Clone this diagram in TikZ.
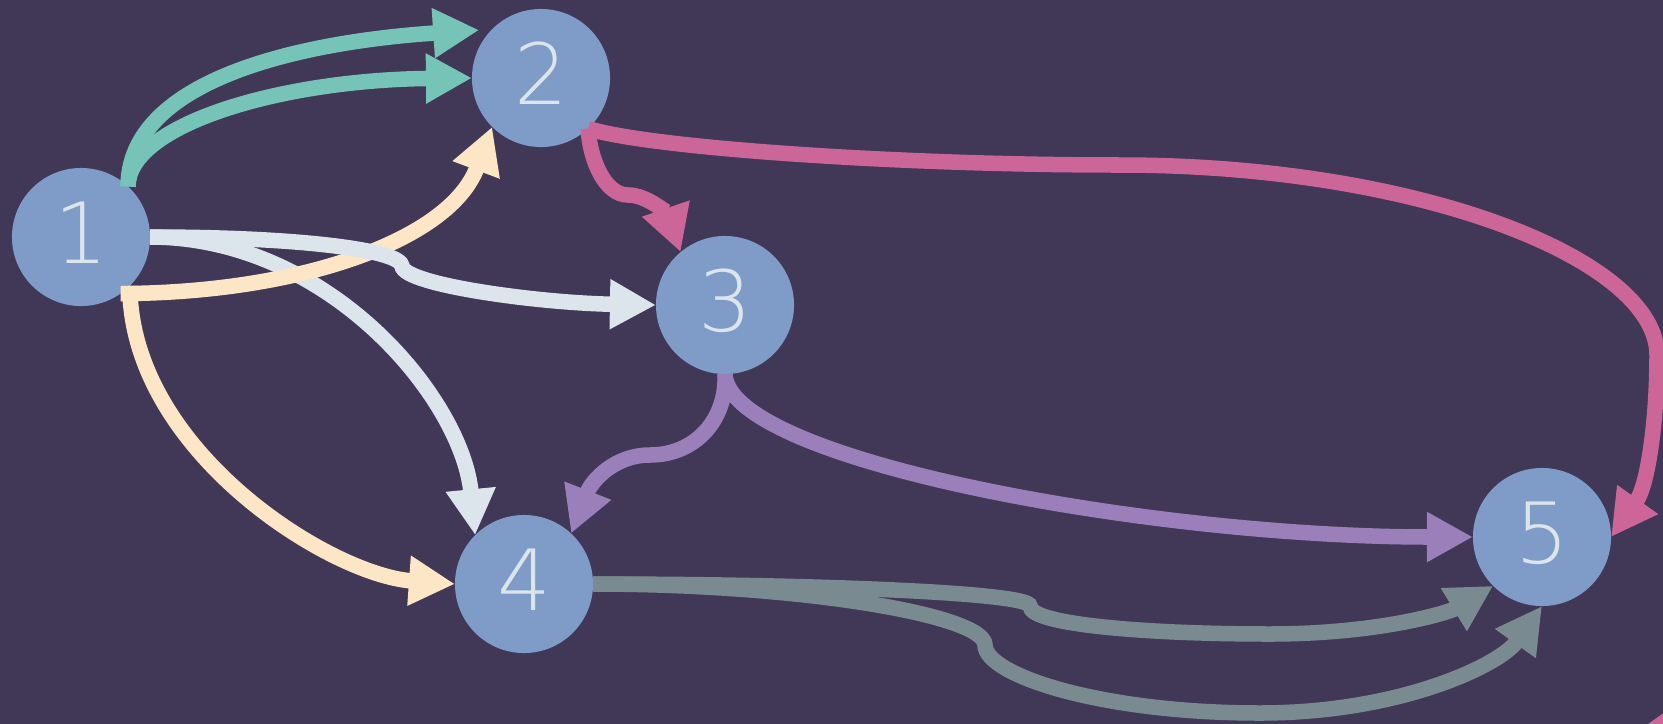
\documentclass[tikz,border=0pt]{standalone}
\usepackage{fontspec}
\usetikzlibrary{arrows.meta}
\newfontfamily\numfont{DejaVu Sans ExtraLight}
\definecolor{bgpurple}{HTML}{403856}
\definecolor{nodeblue}{HTML}{7F9BC8}
\definecolor{labelgrey}{HTML}{DDE5EC}
\definecolor{edgeteal}{HTML}{76C3B8}
\definecolor{edgecream}{HTML}{FDE6C5}
\definecolor{edgelight}{HTML}{DCE4EC}
\definecolor{edgepink}{HTML}{CC6699}
\definecolor{edgepurple}{HTML}{9B7FBB}
\definecolor{edgegrey}{HTML}{7A8A91}

\begin{document}
\begin{tikzpicture}[x=0.01cm,y=-0.01cm,
        vtx/.style={circle,fill=nodeblue,minimum size=1.38cm,inner sep=0pt,outer sep=0pt,
            text=labelgrey,text height=0.63cm,text depth=0.1cm,
            font=\numfont\fontsize{24}{29}\selectfont},
        link/.style={line width=0.155cm,-{Triangle[length=0.46cm,width=0.47cm]}}]
    \useasboundingbox (0,0) rectangle (1663,724);
    \clip (0,0) rectangle (1663,724);
    \fill[bgpurple] (0,0) rectangle (1663,724);

    % vertices
    \node[vtx] (n1) at (81,237) {1};
    \node[vtx] (n2) at (541,78) {2};
    \node[vtx] (n3) at (725,305) {3};
    \node[vtx] (n4) at (524,584) {4};
    \node[vtx] (n5) at (1542,537) {5};

    % out of 1
    \draw[link,edgeteal,shorten >=0.13cm] (n1.47) .. controls (128,80) and (300,42) .. (n2.135);
    \draw[link,edgeteal] (n1.47) .. controls (128,125) and (280,80) .. (n2.west);
    \draw[link,edgelight] (n1.east) .. controls (330,237) and (462,400) .. (n4.135);
    \draw[link,edgecream] (n1.-45) .. controls (130,450) and (330,575) .. (n4.west);
    \draw[link,edgecream] (n1.-55) .. controls (300,293) and (450,240) .. (n2.225);
    \draw[link,edgelight] (n1.east) .. controls (300,237) and (400,250) .. (402,266)
        .. controls (404,285) and (540,303) .. (n3.west);

    % out of 2
    \draw[link,edgepink] (n2.-47) .. controls (590,160) and (605,195) .. (628,195)
        .. controls (648,195) and (668,215) .. (n3.130);
    \draw[link,edgepink] (n2.-47) .. controls (650,148) and (900,165) .. (1120,165)
        .. controls (1420,165) and (1657,260) .. (1657,355)
        .. controls (1657,420) and (1648,485) .. (n5.east);

    % out of 3
    \draw[link,edgepurple] (n3.south) .. controls (727,420) and (695,455) .. (650,455)
        .. controls (615,455) and (592,480) .. (n4.47);
    \draw[link,edgepurple] (n3.south) .. controls (728,460) and (1150,537) .. (n5.west);

    % out of 4
    \draw[link,edgegrey] (n4.east) .. controls (800,584) and (985,615) .. (985,645)
        .. controls (985,675) and (1100,713) .. (1260,713)
        .. controls (1400,713) and (1500,665) .. (n5.south);
    \draw[link,edgegrey] (n4.east) .. controls (800,584) and (1030,592) .. (1030,606)
        .. controls (1030,625) and (1150,634) .. (1270,634)
        .. controls (1380,634) and (1450,612) .. (n5.225);

    % edge leaving the frame
    \draw[edgepink,line width=0.155cm] (1630,746) -- (1690,704);
\end{tikzpicture}
\end{document}
